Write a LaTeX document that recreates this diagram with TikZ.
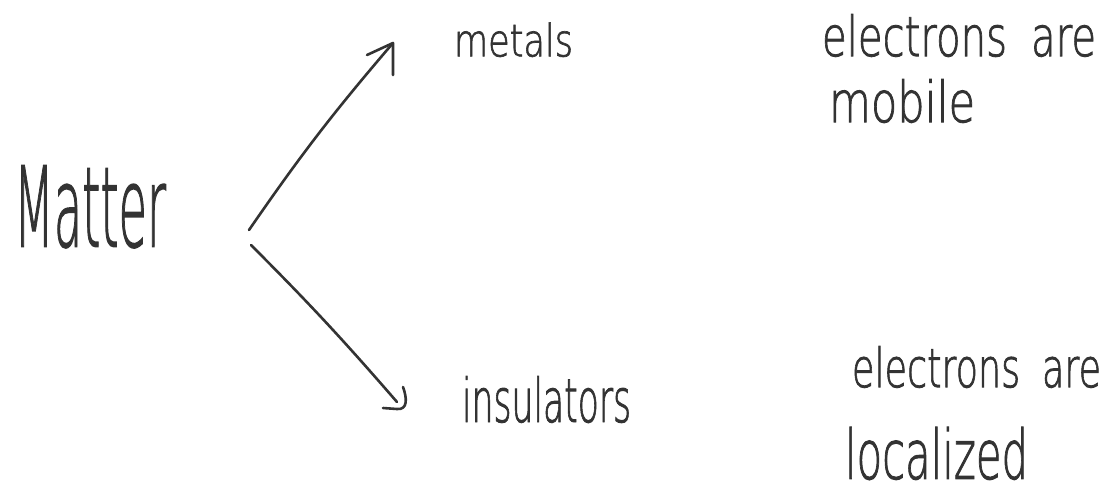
\documentclass[tikz,border=0pt]{standalone}
\usepackage{fontspec}
\setmainfont{DejaVuSans-ExtraLight.ttf}[BoldFont=DejaVuSans-ExtraLight.ttf, BoldFeatures={FakeBold=1.6}]
\definecolor{ink}{HTML}{333333}
\newcommand{\fitto}[3]{\resizebox{#1}{#2}{#3}}
\tikzset{
  word/.style={inner sep=0pt, outer sep=0pt, anchor=south west, text=ink, font=\bfseries},
  branch/.style={draw=ink, line width=2.6pt, line cap=round, line join=round}
}
\begin{document}
\begin{tikzpicture}[x=1pt,y=-1pt]
\useasboundingbox (0,0) rectangle (1110,499);
% texts (south west = left end of baseline)
\node[word] (matter) at (14,248) {\fitto{152pt}{81pt}{Matter}};
\node[word] (metals) at (454,57) {\fitto{119pt}{34pt}{metals}};
\node[word] (insul)  at (462,423) {\fitto{169pt}{46pt}{insulators}};
\node[word] (mobA)   at (822,57) {\fitto{274pt}{42pt}{electrons\hspace{0.6em}are}};
\node[word] (mobB)   at (829,123) {\fitto{146pt}{43pt}{mobile}};
\node[word] (locA)   at (852,388) {\fitto{249pt}{41pt}{electrons\hspace{0.6em}are}};
\node[word] (locB)   at (845,480) {\fitto{183pt}{52pt}{localized}};
% connectors
\coordinate (forkUp) at (249,230);
\coordinate (tipUp) at (393,43);
\coordinate (barbUpL) at (367,55);
\coordinate (barbUpR) at (393,75);
\coordinate (forkDown) at (251,245);
\coordinate (tipDown) at (397,402);
\coordinate (hookTop) at (403,387);
\coordinate (hookLeft) at (383,408);
\draw[branch] (forkUp) to[bend left=3] (tipUp);
\draw[branch] (barbUpL) -- (tipUp) -- (barbUpR);
\draw[branch] (forkDown) to[bend left=2] (tipDown);
\draw[branch] (hookTop) .. controls (407,398) and (408,410) .. (397,409) -- (hookLeft);
\end{tikzpicture}
\end{document}
